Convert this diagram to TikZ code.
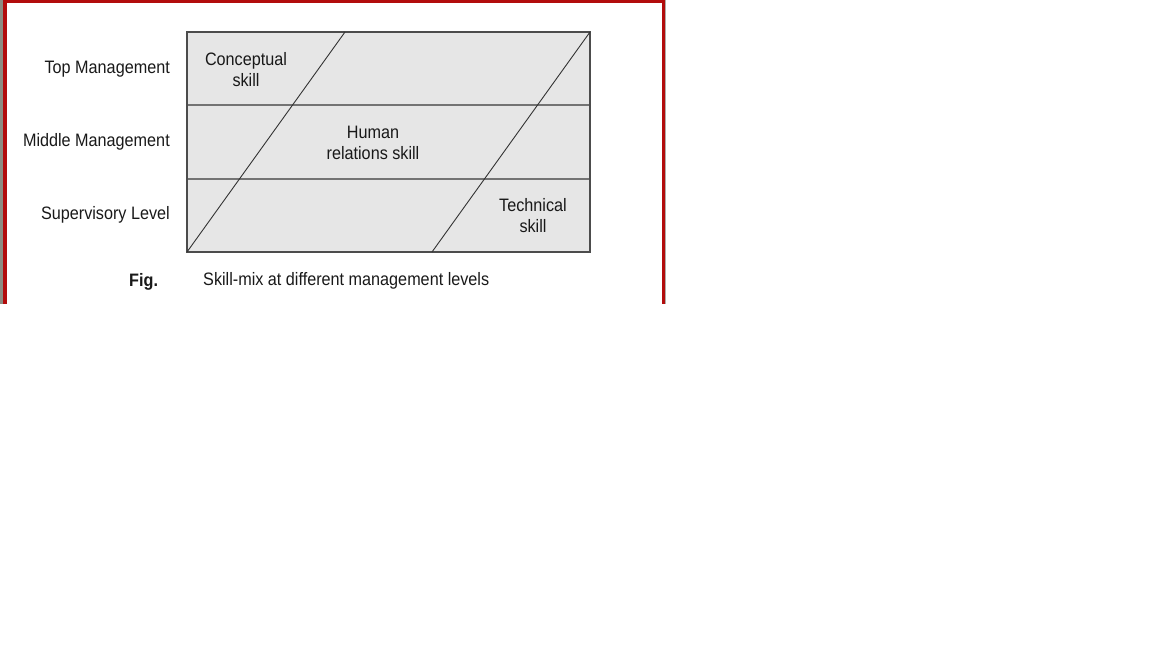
\documentclass[tikz,border=0pt]{standalone}
\usepackage{fontspec}
\setmainfont[FakeStretch=0.9]{Liberation Sans}
\definecolor{frame}{RGB}{178,12,12}
\definecolor{boxfill}{RGB}{230,230,230}
\definecolor{edgegray}{RGB}{140,140,130}
\begin{document}
\begin{tikzpicture}[x=1pt,y=-1pt,
  lbl/.style={font=\fontsize{18}{21}\selectfont, inner sep=0pt, text=black!90},
  skill/.style={font=\fontsize{18}{21}\selectfont, inner sep=0pt, align=center, text=black!90},
  rowline/.style={draw=black!55, line width=1.2pt},
  diag/.style={draw=black!80, line width=0.9pt}]
\useasboundingbox (0,0) rectangle (1152,648);
% frame
\fill[edgegray] (0,0) rectangle (3,304);
\fill[frame] (3,0) rectangle (7,304);
\fill[frame] (3,0) rectangle (665,2.5);
\fill[frame] (661.5,0) rectangle (665,304);
\fill[edgegray!70] (665,0) rectangle (666,304);
% box
\coordinate (TL) at (187,32);
\coordinate (BR) at (590,252);
\fill[boxfill] (TL) rectangle (BR);
\coordinate (r1l) at (187,105);
\coordinate (r1r) at (590,105);
\coordinate (r2l) at (187,179);
\coordinate (r2r) at (590,179);
\draw[rowline] (r1l) -- (r1r);
\draw[rowline] (r2l) -- (r2r);
\draw[draw=black!70, line width=1.1pt] (TL) rectangle (BR);
\coordinate (d1a) at (187,252);
\coordinate (d1b) at (345,32);
\coordinate (d2a) at (432,252);
\coordinate (d2b) at (590,32);
\draw[diag] (d1a) -- (d1b);
\draw[diag] (d2a) -- (d2b);
% skills
\node[skill] (concept) at (246,70) {Conceptual\\skill};
\node[skill] (human) at (373,143) {Human\\relations skill};
\node[skill] (tech) at (533,216) {Technical\\skill};
% row labels
\node[lbl, anchor=east] (top) at (170,69) {Top Management};
\node[lbl, anchor=east] (mid) at (170,142) {Middle Management};
\node[lbl, anchor=east] (sup) at (170,215) {Supervisory Level};
% caption
\node[lbl, anchor=west, font=\fontsize{18}{21}\selectfont\bfseries] (fig) at (129,282) {Fig.};
\node[lbl, anchor=west] (cap) at (203,281) {Skill-mix at different management levels};
\end{tikzpicture}
\end{document}
